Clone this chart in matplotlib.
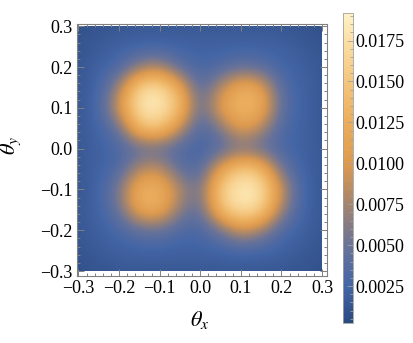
import numpy as np
import matplotlib
matplotlib.use("Agg")
import matplotlib.pyplot as plt
from matplotlib.colors import LinearSegmentedColormap, Normalize
from matplotlib.patches import Rectangle
from matplotlib.ticker import MultipleLocator, FuncFormatter

plt.rcParams["font.family"] = ["Liberation Serif", "DejaVu Serif"]
plt.rcParams["mathtext.fontset"] = "stix"

# grid nodes of the density map (theta_x, theta_y), step 0.05
theta_x = [-0.3, -0.25, -0.2, -0.15, -0.1, -0.05, 0.0, 0.05, 0.1, 0.15, 0.2, 0.25, 0.3]
theta_y = [0.3, 0.25, 0.2, 0.15, 0.1, 0.05, 0.0, -0.05, -0.1, -0.15, -0.2, -0.25, -0.3]

# intensity, in units of 1e-3 (rows: theta_y from top)
intensity_milli = [
    [0.8, 1.2, 1.4, 1.5, 1.5, 1.5, 1.5, 1.5, 1.5, 1.5, 1.4, 1.2, 0.8],
    [1.2, 1.7, 2.1, 2.3, 2.3, 2.3, 2.2, 2.2, 2.2, 2.2, 2.1, 1.7, 1.2],
    [1.4, 2.1, 2.9, 6.4, 7.9, 3.8, 2.7, 3.1, 4.5, 3.8, 2.5, 2.1, 1.4],
    [1.5, 2.3, 7.1, 16.7, 17.9, 12.1, 3.4, 8.3, 12.8, 11.3, 3.6, 2.2, 1.5],
    [1.5, 2.5, 9.5, 18.2, 18.9, 14.7, 4.0, 11.0, 13.6, 13.0, 4.3, 2.2, 1.5],
    [1.5, 2.3, 4.7, 14.1, 15.4, 8.8, 3.0, 5.8, 11.0, 8.3, 3.1, 2.2, 1.5],
    [1.5, 2.2, 2.8, 3.9, 4.0, 3.2, 2.4, 3.5, 5.0, 4.0, 2.9, 2.2, 1.5],
    [1.5, 2.2, 3.1, 8.2, 9.0, 4.2, 3.3, 11.0, 15.9, 14.3, 5.1, 2.3, 1.5],
    [1.5, 2.2, 5.8, 13.0, 13.2, 8.2, 4.9, 15.9, 19.0, 18.0, 9.4, 2.5, 1.5],
    [1.5, 2.2, 4.8, 12.0, 12.6, 6.6, 4.0, 14.3, 18.0, 16.6, 7.2, 2.4, 1.5],
    [1.4, 2.1, 2.7, 4.2, 4.8, 3.0, 2.9, 5.1, 9.4, 7.2, 3.1, 2.1, 1.4],
    [1.2, 1.7, 2.1, 2.2, 2.2, 2.2, 2.2, 2.3, 2.5, 2.4, 2.1, 1.7, 1.2],
    [0.8, 1.2, 1.4, 1.5, 1.5, 1.5, 1.5, 1.5, 1.5, 1.5, 1.4, 1.2, 0.8],
]

cbar_ticks = [0.0025, 0.005, 0.0075, 0.01, 0.0125, 0.015, 0.0175]
vmin, vmax = 0.00026, 0.0192

cmap = LinearSegmentedColormap.from_list("m10", [
    (0.0, "#2b4a82"),
    (0.12, "#4566a6"),
    (0.25, "#6a7398"),
    (0.38, "#a3846f"),
    (0.51, "#dc994f"),
    (0.65, "#ecae5e"),
    (0.78, "#f4c67e"),
    (0.91, "#fbdfa6"),
    (1.0, "#fff3c9"),
])


def fmt(decimals):
    return FuncFormatter(lambda v, pos: f"{v:.{decimals}f}".replace("-", "\u2212"))


z = np.array(intensity_milli) * 1e-3
step = theta_x[1] - theta_x[0]

fig = plt.figure(figsize=(4.14, 3.43), dpi=100)
ax = fig.add_axes([0.186, 0.195, 0.604, 0.734])
im = ax.imshow(z, cmap=cmap, norm=Normalize(vmin, vmax), interpolation="bicubic",
               extent=[theta_x[0] - step / 2, theta_x[-1] + step / 2,
                       theta_y[-1] - step / 2, theta_y[0] + step / 2],
               aspect="auto")
im.set_clip_path(Rectangle((theta_x[0], theta_y[-1]), theta_x[-1] - theta_x[0],
                           theta_y[0] - theta_y[-1], transform=ax.transData))
ax.set_xlim(-0.3035, 0.3123)
ax.set_ylim(-0.3123, 0.3045)

frame_col = "#808080"
for s in ax.spines.values():
    s.set_color(frame_col)
    s.set_linewidth(0.8)
ax.xaxis.set_major_locator(MultipleLocator(0.1))
ax.yaxis.set_major_locator(MultipleLocator(0.1))
ax.xaxis.set_minor_locator(MultipleLocator(0.02))
ax.yaxis.set_minor_locator(MultipleLocator(0.02))
ax.xaxis.set_major_formatter(fmt(1))
ax.yaxis.set_major_formatter(fmt(1))
ax.tick_params(which="both", direction="in", top=True, right=True, color=frame_col,
               labelsize=13, width=0.7)
ax.tick_params(which="major", length=5, pad=3)
ax.tick_params(which="minor", length=2.5)

ax.set_xlabel(r"$\theta_x$", fontsize=16)
ax.set_ylabel(r"$\theta_y$", fontsize=16)
ax.xaxis.set_label_coords(0.49, -0.13)
ax.yaxis.set_label_coords(-0.216, 0.52)

cax = fig.add_axes([0.8285, 0.059, 0.0242, 0.904])
cb = fig.colorbar(im, cax=cax)
cb.set_ticks(cbar_ticks)
cb.ax.yaxis.set_major_formatter(fmt(4))
cb.ax.yaxis.set_minor_locator(MultipleLocator(0.0005))
cb.outline.set_edgecolor("#a0a0a0")
cb.outline.set_linewidth(0.6)
cb.ax.tick_params(which="both", direction="in", color="#a0a0a0", labelsize=13, width=0.6)
cb.ax.tick_params(which="major", length=4, pad=2)
cb.ax.tick_params(which="minor", length=2)

fig.savefig("out.png", dpi=100)
